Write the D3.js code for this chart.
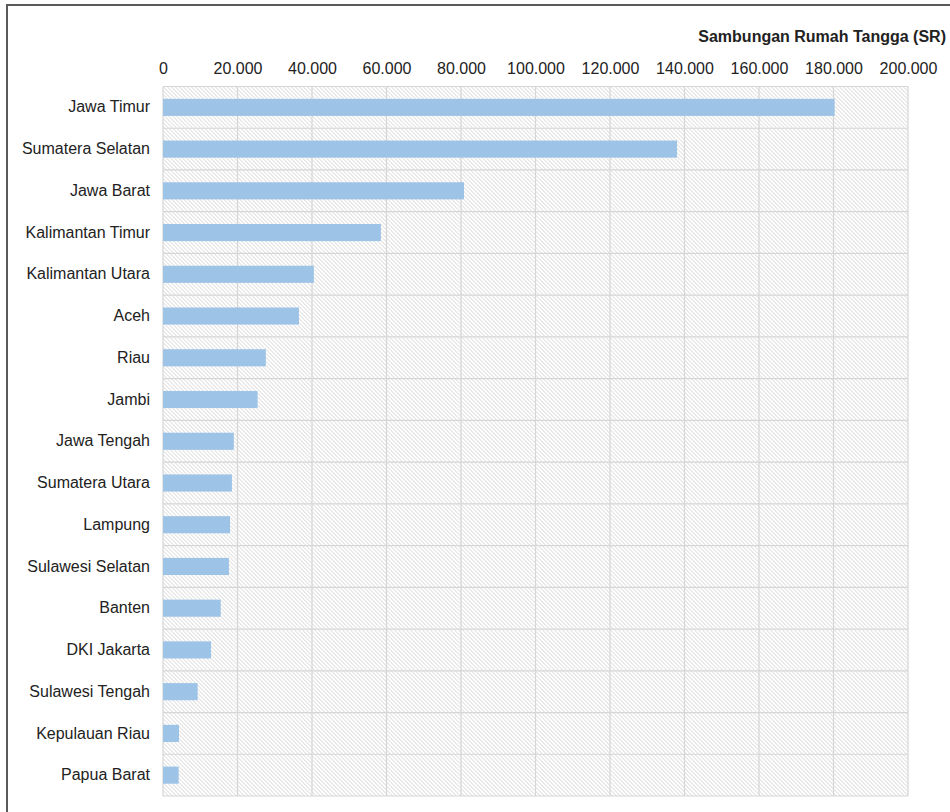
<!DOCTYPE html>
<html>
<head>
<meta charset="utf-8">
<script src="https://cdn.jsdelivr.net/npm/d3@7"></script>
<style>
  body { margin: 0; background: #fff; }
  text { font-family: "Liberation Sans", Arial, sans-serif; fill: #222; }
</style>
</head>
<body>
<div id="chart"></div>
<script>
// Data
const provinces = ["Jawa Timur", "Sumatera Selatan", "Jawa Barat", "Kalimantan Timur", "Kalimantan Utara",
    "Aceh", "Riau", "Jambi", "Jawa Tengah", "Sumatera Utara", "Lampung", "Sulawesi Selatan",
    "Banten", "DKI Jakarta", "Sulawesi Tengah", "Kepulauan Riau", "Papua Barat"];
const connections = [180300, 138000, 80800, 58500, 40500, 36500, 27600, 25400, 19000, 18500,
    18000, 17700, 15500, 12900, 9300, 4300, 4200];
const xTicks = [0, 20000, 40000, 60000, 80000, 100000, 120000, 140000, 160000, 180000, 200000];

const data = provinces.map((p, i) => ({ name: p, value: connections[i] }));

const W = 950, H = 812;
const margin = { top: 86.5, right: 42, bottom: 16, left: 163 };
const width = W - margin.left - margin.right,
    height = H - margin.top - margin.bottom;

const svg = d3.select("#chart").append("svg")
    .attr("width", W)
    .attr("height", H);

// hatch pattern for plot background
const defs = svg.append("defs");
const pat = defs.append("pattern")
    .attr("id", "hatch")
    .attr("patternUnits", "userSpaceOnUse")
    .attr("width", 4)
    .attr("height", 4);
pat.append("rect").attr("width", 4).attr("height", 4).attr("fill", "#fff");
pat.append("path")
    .attr("d", "M-1,-1 L5,5 M-1,3 L1,5 M3,-1 L5,1")
    .attr("stroke", "#d4d4d4")
    .attr("stroke-width", 1);

// outer frame
svg.append("rect")
    .attr("x", 7).attr("y", 5)
    .attr("width", W).attr("height", H)
    .attr("fill", "none")
    .attr("stroke", "#5a5a5a")
    .attr("stroke-width", 2);

const g = svg.append("g").attr("transform", `translate(${margin.left},${margin.top})`);

const xScale = d3.scaleLinear().domain([0, 200000]).range([0, width]);
const yScale = d3.scaleBand().domain(provinces).range([0, height]).paddingInner(0.59).paddingOuter(0.295);

// background
g.append("rect")
    .attr("width", width).attr("height", height)
    .attr("fill", "url(#hatch)");

// gridlines
g.selectAll(".vgrid")
    .data(xTicks)
    .enter()
    .append("line")
    .attr("class", "vgrid")
    .attr("x1", d => xScale(d)).attr("x2", d => xScale(d))
    .attr("y1", 0).attr("y2", height)
    .attr("stroke", "#d6d6d6")
    .attr("stroke-width", 1.2);

const hLines = d3.range(provinces.length + 1);
g.selectAll(".hgrid")
    .data(hLines)
    .enter()
    .append("line")
    .attr("class", "hgrid")
    .attr("x1", 0).attr("x2", width)
    .attr("y1", d => d * height / provinces.length)
    .attr("y2", d => d * height / provinces.length)
    .attr("stroke", "#d6d6d6")
    .attr("stroke-width", 1.2);

// bars
g.selectAll(".bar")
    .data(data)
    .enter()
    .append("rect")
    .attr("class", "bar")
    .attr("x", xScale(0))
    .attr("y", d => yScale(d.name))
    .attr("width", d => xScale(d.value) - xScale(0))
    .attr("height", yScale.bandwidth())
    .attr("fill", "#9dc3e6");

// x axis on top
const fmt = d => d === 0 ? "0" : d3.format(",")(d).replace(/,/g, ".");
const xAxis = d3.axisTop(xScale).tickValues(xTicks).tickFormat(fmt).tickSize(0).tickPadding(13);
const xAxisGroup = g.append("g").attr("class", "x-axis").call(xAxis);
xAxisGroup.select(".domain").remove();
xAxisGroup.selectAll("text")
    .attr("font-size", 16)
    .attr("fill", "#222");

// y axis
const yAxis = d3.axisLeft(yScale).tickSize(0).tickPadding(13);
const yAxisGroup = g.append("g").attr("class", "y-axis").call(yAxis);
yAxisGroup.select(".domain").remove();
yAxisGroup.selectAll("text")
    .attr("font-size", 16)
    .attr("fill", "#222");

// axis title
svg.append("text")
    .attr("text-anchor", "end")
    .attr("x", 946)
    .attr("y", 42)
    .attr("font-size", 16)
    .attr("font-weight", "bold")
    .text("Sambungan Rumah Tangga (SR)");
</script>
</body>
</html>
